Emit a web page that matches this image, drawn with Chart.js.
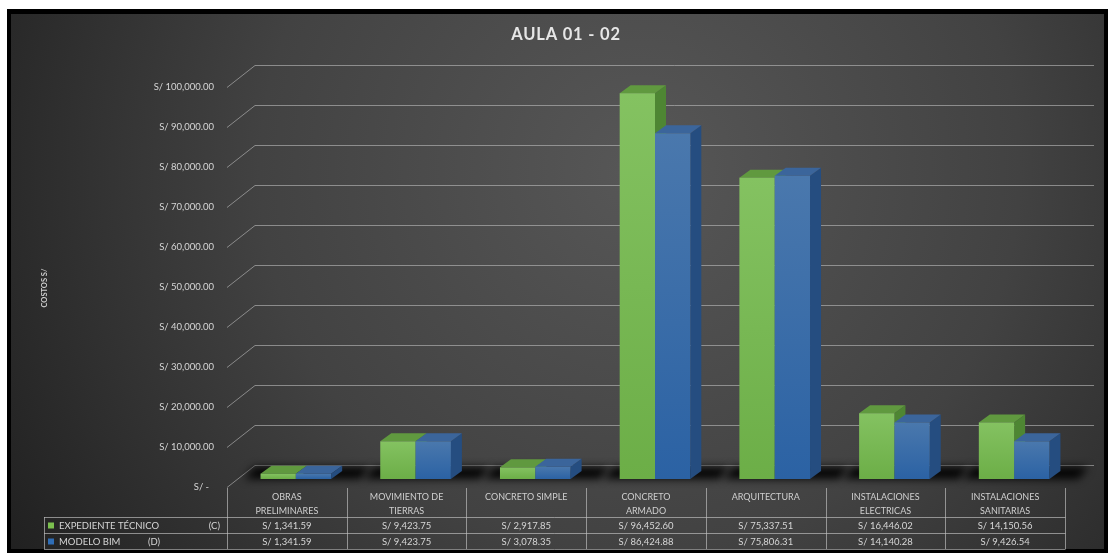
<!DOCTYPE html>
<html>
<head>
<meta charset="utf-8">
<script src="https://cdn.jsdelivr.net/npm/chart.js@4.4.0/dist/chart.umd.min.js"></script>
<style>
  html, body { margin: 0; padding: 0; background: #fff; }
  #wrap { position: relative; width: 1113px; height: 554px; }
</style>
</head>
<body>
<div id="wrap"><canvas id="chart"></canvas></div>
<script>
// Datos del grafico
const categories = [
    ['OBRAS', 'PRELIMINARES'],
    ['MOVIMIENTO DE', 'TIERRAS'],
    ['CONCRETO SIMPLE'],
    ['CONCRETO', 'ARMADO'],
    ['ARQUITECTURA'],
    ['INSTALACIONES', 'ELECTRICAS'],
    ['INSTALACIONES', 'SANITARIAS']
];
const expedienteTecnico = [1341.59, 9423.75, 2917.85, 96452.60, 75337.51, 16446.02, 14150.56];
const modeloBim = [1341.59, 9423.75, 3078.35, 86424.88, 75806.31, 14140.28, 9426.54];
const yTicks = [0, 10000, 20000, 30000, 40000, 50000, 60000, 70000, 80000, 90000, 100000];
const seriesNames = ['EXPEDIENTE TÉCNICO', 'MODELO BIM'];
const seriesTags = ['(C)', '(D)'];

const font = 'Lato, "Open Sans", sans-serif';
const textColor = '#d6d6d6';

// 3D look: bar plane offset, bar depth, back wall offset
const bar3d = { x0: 9, y0: -8, dx: 11, dy: -8 };
const wall = { dx: 28, dy: -22, right: 1094 };

const faces = [
    { front: ['#84c261', '#6cae47'], top: '#60993f', side: '#4e8633', legend: '#7cc04f' },
    { front: ['#4a78ad', '#2b62a4'], top: '#3b659b', side: '#254d80', legend: '#2f6db5' }
];

function money(v) {
    return 'S/ ' + v.toLocaleString('en-US', { minimumFractionDigits: 2, maximumFractionDigits: 2 });
}

const backdrop = {
    id: 'backdrop',
    beforeDraw(chart) {
        const ctx = chart.ctx;
        const y = chart.scales.y;
        const x = chart.scales.x;
        ctx.save();
        ctx.fillStyle = '#fff';
        ctx.fillRect(0, 0, chart.width, chart.height);
        ctx.fillStyle = '#000';
        ctx.fillRect(7, 9, 1101, 544);
        const g = ctx.createRadialGradient(640, 170, 0, 640, 170, 760);
        g.addColorStop(0, '#575757');
        g.addColorStop(0.5, '#424242');
        g.addColorStop(1, '#1e1e1e');
        ctx.fillStyle = g;
        ctx.fillRect(11, 14, 1093, 535);

        // title
        ctx.fillStyle = '#e6e6e6';
        ctx.font = 'bold 16.5px ' + font;
        ctx.textAlign = 'center';
        ctx.textBaseline = 'middle';
        ctx.letterSpacing = '0.8px';
        ctx.fillText('AULA 01 - 02', 566, 35);
        ctx.letterSpacing = '0px';

        // axis title
        ctx.save();
        ctx.translate(45, 288);
        ctx.rotate(-Math.PI / 2);
        ctx.font = 'bold 7.5px ' + font;
        ctx.fillStyle = '#d0d0d0';
        ctx.fillText('COSTOS S/', 0, 0);
        ctx.restore();

        // gridlines on side wall + back wall
        ctx.strokeStyle = 'rgba(190,190,190,0.6)';
        ctx.lineWidth = 1;
        ctx.beginPath();
        yTicks.forEach(v => {
            const py = Math.round(y.getPixelForValue(v)) + 0.5;
            ctx.moveTo(x.left, py);
            ctx.lineTo(x.left + wall.dx, py + wall.dy);
            ctx.lineTo(wall.right, py + wall.dy);
        });
        ctx.stroke();
        ctx.restore();
    }
};

function drawBar(ctx, el, f) {
    const l = el.x - el.width / 2 + bar3d.x0;
    const r = el.x + el.width / 2 + bar3d.x0;
    const t = el.y + bar3d.y0;
    const b = el.base + bar3d.y0;
    const dx = bar3d.dx, dy = bar3d.dy;

    // side
    ctx.fillStyle = f.side;
    ctx.beginPath();
    ctx.moveTo(r, t); ctx.lineTo(r + dx, t + dy); ctx.lineTo(r + dx, b + dy); ctx.lineTo(r, b);
    ctx.closePath(); ctx.fill();
    // top
    ctx.fillStyle = f.top;
    ctx.beginPath();
    ctx.moveTo(l, t); ctx.lineTo(l + dx, t + dy); ctx.lineTo(r + dx, t + dy); ctx.lineTo(r, t);
    ctx.closePath(); ctx.fill();
    // front
    const g = ctx.createLinearGradient(0, t, 0, b);
    g.addColorStop(0, f.front[0]);
    g.addColorStop(1, f.front[1]);
    ctx.fillStyle = g;
    ctx.fillRect(l, t, r - l, b - t);
}

const bars3d = {
    id: 'bars3d',
    afterDatasetsDraw(chart) {
        const ctx = chart.ctx;
        const metas = [chart.getDatasetMeta(0), chart.getDatasetMeta(1)];
        ctx.save();
        // floor shadows
        ctx.filter = 'blur(4px)';
        ctx.fillStyle = 'rgba(0,0,0,0.95)';
        categories.forEach((c, i) => {
            const a = metas[0].data[i], z = metas[1].data[i];
            const l = a.x - a.width / 2 + bar3d.x0;
            const r = z.x + z.width / 2 + bar3d.x0 + bar3d.dx;
            const base = a.base + bar3d.y0;
            ctx.beginPath();
            ctx.moveTo(l - 16, base);
            ctx.lineTo(l - 6, base - 12);
            ctx.lineTo(r + 28, base - 12);
            ctx.lineTo(r + 18, base);
            ctx.closePath();
            ctx.fill();
        });
        ctx.filter = 'none';
        categories.forEach((c, i) => {
            metas.forEach((m, s) => drawBar(ctx, m.data[i], faces[s]));
        });
        ctx.restore();
    }
};

const dataTable = {
    id: 'dataTable',
    afterDraw(chart) {
        const ctx = chart.ctx;
        const x = chart.scales.x;
        const band = (x.right - x.left) / categories.length;
        const top = x.top;
        const rowTop = 517, rowH = 16, legendLeft = 44;
        const rows = [expedienteTecnico, modeloBim];
        ctx.save();
        ctx.strokeStyle = 'rgba(195,195,195,0.65)';
        ctx.lineWidth = 1;
        ctx.beginPath();
        for (let k = 0; k <= categories.length; k++) {
            const px = Math.round(x.left + k * band) + 0.5;
            ctx.moveTo(px, top + 1);
            ctx.lineTo(px, rowTop + rowH * 2);
        }
        for (let r = 0; r <= 2; r++) {
            const py = rowTop + rowH * r + 0.5;
            ctx.moveTo(legendLeft, py);
            ctx.lineTo(x.right + 0.5, py);
        }
        ctx.moveTo(legendLeft + 0.5, rowTop);
        ctx.lineTo(legendLeft + 0.5, rowTop + rowH * 2);
        ctx.stroke();

        ctx.font = '9.5px ' + font;
        ctx.textBaseline = 'middle';
        rows.forEach((vals, s) => {
            const cy = rowTop + rowH * s + rowH / 2 + 0.5;
            ctx.fillStyle = faces[s].legend;
            ctx.fillRect(legendLeft + 4, cy - 3, 6, 6);
            ctx.fillStyle = textColor;
            ctx.textAlign = 'left';
            ctx.fillText(seriesNames[s], legendLeft + 15, cy);
            if (s === 0) {
                ctx.textAlign = 'right';
                ctx.fillText(seriesTags[s], 220, cy);
            } else {
                ctx.fillText(seriesTags[s], 148, cy);
            }
            ctx.textAlign = 'center';
            vals.forEach((v, i) => ctx.fillText(money(v), x.getPixelForValue(i), cy));
        });
        ctx.restore();
    }
};

new Chart(document.getElementById('chart'), {
    type: 'bar',
    data: {
        labels: categories,
        datasets: [
            { label: seriesNames[0], data: expedienteTecnico, backgroundColor: 'rgba(0,0,0,0)' },
            { label: seriesNames[1], data: modeloBim, backgroundColor: 'rgba(0,0,0,0)' }
        ]
    },
    options: {
        responsive: true,
        maintainAspectRatio: false,
        animation: false,
        events: [],
        layout: { padding: { top: 87, right: 48, left: 0, bottom: 0 } },
        datasets: { bar: { categoryPercentage: 0.59, barPercentage: 1.0 } },
        plugins: { legend: { display: false }, tooltip: { enabled: false } },
        scales: {
            x: {
                grid: { display: false, drawTicks: false },
                border: { display: false },
                ticks: {
                    color: '#cfcfcf',
                    font: { family: font, size: 9, lineHeight: 1.55 },
                    padding: 3,
                    maxRotation: 0,
                    autoSkip: false
                },
                afterFit: s => { s.height = 67; }
            },
            y: {
                min: 0,
                max: 100000,
                grid: { display: false, drawTicks: false },
                border: { display: false },
                afterBuildTicks: s => { s.ticks = yTicks.map(v => ({ value: v })); },
                ticks: {
                    color: textColor,
                    font: { family: font, size: 9.5 },
                    padding: 13,
                    callback: v => v === 0 ? 'S/ -  ' : money(v)
                },
                afterFit: s => { s.width = 227; }
            }
        }
    },
    plugins: [backdrop, bars3d, dataTable]
});
</script>
</body>
</html>
